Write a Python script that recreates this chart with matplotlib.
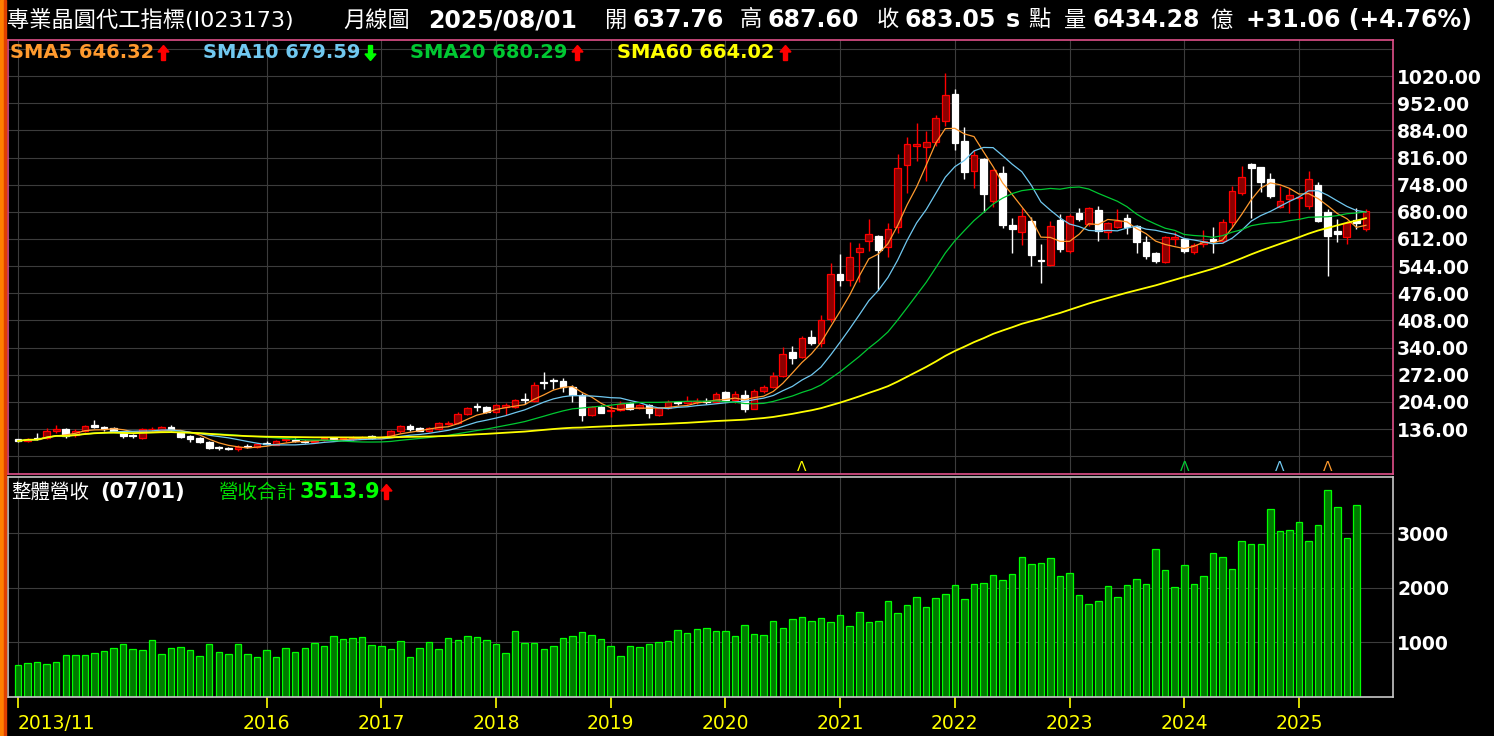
import numpy as np
import pandas as pd
import matplotlib
matplotlib.use("Agg")
import matplotlib.pyplot as plt
from matplotlib.patches import Rectangle, Polygon

plt.rcParams['font.family'] = ['DejaVu Sans', 'Noto Sans CJK TC']

# ---------------- data ----------------
months = pd.date_range('2013-11-01', periods=142, freq='MS')

opens = [110, 107, 114, 113, 130, 136, 120, 131, 146, 141,
         138, 129, 120, 114, 135, 133, 141, 125, 119, 113,
         104, 90, 89, 85, 93, 90, 101, 97, 108, 108,
         106, 103, 108, 114, 110, 112, 112, 118, 114, 117,
         130, 143, 138, 131, 137, 149, 151, 173, 193, 190,
         178, 192, 192, 210, 207, 254, 258, 256, 242, 222,
         171, 192, 181, 184, 200, 188, 196, 172, 189, 204,
         202, 204, 207, 204, 228, 209, 221, 187, 231, 241,
         268, 330, 317, 367, 351, 411, 524, 509, 580, 606,
         619, 591, 643, 796, 846, 842, 854, 907, 975, 857,
         783, 812, 708, 776, 647, 630, 657, 560, 546, 659,
         581, 676, 649, 684, 630, 643, 664, 645, 605, 578,
         555, 612, 613, 579, 599, 613, 608, 655, 728, 800,
         791, 761, 693, 712, 714, 695, 747, 679, 632, 618,
         659, 637.76]
highs = [111, 114, 126, 139, 146, 139, 135, 147, 158, 144,
         140, 131, 124, 139, 141, 144, 146, 128, 121, 115,
         106, 93, 92, 95, 98, 100, 106, 109, 113, 114,
         108, 109, 115, 116, 117, 118, 118, 121, 118, 133,
         146, 149, 140, 141, 153, 155, 179, 192, 200, 193,
         198, 202, 212, 227, 254, 280, 263, 264, 247, 226,
         194, 196, 196, 205, 203, 199, 198, 190, 209, 206,
         219, 214, 213, 229, 231, 232, 234, 237, 246, 279,
         341, 344, 370, 384, 421, 553, 574, 605, 601, 662,
         622, 651, 825, 867, 903, 882, 922, 1028, 987, 892,
         836, 815, 788, 795, 664, 690, 666, 599, 657, 674,
         674, 690, 692, 695, 655, 687, 674, 648, 619, 580,
         620, 630, 615, 603, 634, 641, 662, 744, 795, 801,
         793, 776, 744, 740, 723, 783, 755, 686, 661, 656,
         689, 687.60]
lows = [104, 104, 109, 110, 126, 114, 116, 128, 138, 132,
        128, 114, 114, 112, 130, 130, 131, 114, 103, 101,
        86, 83, 83, 82, 88, 88, 95, 95, 104, 103,
        101, 101, 106, 106, 105, 107, 110, 112, 112, 115,
        127, 131, 130, 128, 134, 146, 148, 170, 180, 175,
        175, 171, 188, 199, 204, 236, 236, 229, 204, 157,
        168, 175, 165, 182, 184, 185, 163, 169, 187, 195,
        199, 198, 198, 202, 204, 200, 178, 185, 227, 238,
        265, 300, 314, 346, 342, 405, 495, 495, 505, 582,
        484, 568, 626, 726, 808, 758, 845, 895, 836, 762,
        740, 679, 691, 640, 578, 597, 545, 501, 545, 580,
        578, 657, 644, 607, 611, 640, 624, 578, 562, 551,
        553, 597, 576, 574, 592, 576, 603, 643, 722, 664,
        730, 714, 689, 676, 659, 687, 655, 519, 605, 599,
        636, 633]
closes = [106, 112, 110, 131, 135, 118, 132, 143, 141, 137,
          131, 119, 118, 136, 137, 141, 133, 116, 111, 104,
          88, 88, 85, 92, 90, 98, 99, 107, 110, 105,
          104, 107, 113, 109, 113, 114, 116, 114, 116, 130,
          143, 136, 132, 138, 150, 152, 174, 188, 190, 178,
          196, 195, 208, 208, 246, 250, 255, 241, 221, 171,
          192, 177, 184, 199, 186, 196, 175, 188, 204, 202,
          205, 207, 204, 224, 209, 223, 186, 231, 242, 268,
          325, 315, 363, 351, 409, 523, 509, 566, 589, 624,
          584, 638, 790, 850, 850, 855, 915, 972, 853, 780,
          822, 725, 785, 648, 636, 669, 573, 557, 644, 587,
          669, 662, 689, 633, 651, 658, 643, 605, 569, 558,
          616, 616, 581, 597, 607, 608, 655, 731, 766, 790,
          755, 720, 708, 721, 718, 761, 657, 619, 624, 653,
          652, 683.05]
revenue = [577, 614, 632, 596, 632, 761, 761, 761, 798, 834,
           889, 963, 871, 853, 1036, 779, 889, 908, 853, 743,
           963, 816, 779, 963, 779, 724, 853, 724, 889, 816,
           889, 981, 926, 1110, 1055, 1073, 1091, 944, 926, 871,
           1018, 724, 889, 1000, 871, 1073, 1036, 1110, 1091, 1036,
           963, 798, 1201, 981, 981, 871, 926, 1073, 1110, 1183,
           1128, 1055, 926, 743, 926, 908, 963, 1000, 1018, 1220,
           1165, 1238, 1256, 1201, 1201, 1110, 1312, 1146, 1128, 1385,
           1256, 1421, 1458, 1385, 1440, 1366, 1495, 1293, 1550, 1366,
           1385, 1752, 1532, 1679, 1825, 1642, 1807, 1880, 2045, 1788,
           2063, 2081, 2228, 2136, 2246, 2558, 2430, 2448, 2540, 2210,
           2265, 1862, 1697, 1752, 2027, 1825, 2045, 2155, 2063, 2705,
           2320, 2008, 2412, 2063, 2210, 2632, 2558, 2338, 2852, 2797,
           2797, 3439, 3036, 3054, 3201, 2852, 3146, 3788, 3476, 2907,
           3513.9]
sma_periods = [5, 10, 20, 60]
sma_colors = ['#ff9a2e', '#70c8f0', '#00c832', '#ffff00']
sma_labels = ['SMA5 646.32', 'SMA10 679.59', 'SMA20 680.29', 'SMA60 664.02']
sma_up = [True, False, True, True]
signal_idx = [82, 122, 132, 137]
signal_colors = ['#ffff00', '#00cc33', '#70c8f0', '#ff9a2e']
price_ticks = list(range(68, 1089, 68))
rev_ticks = [1000, 2000, 3000]
first_labeled_year = 2016

# ---------------- figure ----------------
W, H = 1494, 736
fig = plt.figure(figsize=(W / 100, H / 100), dpi=100, facecolor='black')


def fx(px):
    return px / W


def fy(py):
    return 1 - py / H


def block_arrow(xl, yc, up, color):
    # small filled arrow, drawn in figure pixel units
    hw, sw, hh, tot = 5.5, 2.0, 6.5, 15.0
    cx = xl + hw
    top, bot = yc - tot / 2, yc + tot / 2
    if up:
        pts = [(cx, top), (cx + hw, top + hh), (cx + sw, top + hh), (cx + sw, bot),
               (cx - sw, bot), (cx - sw, top + hh), (cx - hw, top + hh)]
    else:
        pts = [(cx, bot), (cx + hw, bot - hh), (cx + sw, bot - hh), (cx + sw, top),
               (cx - sw, top), (cx - sw, bot - hh), (cx - hw, bot - hh)]
    fig.patches.append(Polygon([(fx(a), fy(b)) for a, b in pts], closed=True,
                               transform=fig.transFigure, color=color, zorder=5))


ax1 = fig.add_axes([fx(8), fy(474), fx(1385), 434 / H], facecolor='black')
ax2 = fig.add_axes([fx(8), fy(697), fx(1385), 220 / H], facecolor='black')

x = np.arange(len(closes))
o = np.array(opens, float)
h = np.array(highs, float)
l = np.array(lows, float)
c = np.array(closes, float)
up = c >= o

# x ticks: first month and every January from 2016
tick_pos = [0] + [i for i, m in enumerate(months) if m.month == 1 and m.year >= first_labeled_year]
tick_lab = [months[0].strftime('%Y/%m')] + [str(months[i].year) for i in tick_pos[1:]]

grid_col = '#3c3c3c'
for ax in (ax1, ax2):
    ax.set_xlim(-1.046, 143.83)
    ax.set_xticks(tick_pos)
    ax.grid(True, color=grid_col, lw=0.8, zorder=0)
    ax.set_axisbelow(True)
    ax.yaxis.tick_right()

# ----- top panel -----
ax1.set_ylim(23.3, 1110.3)
ax1.set_yticks(price_ticks)
ax1.set_yticklabels(['' if (v < 136 or v > 1020) else f'{v:.2f}' for v in price_ticks],
                    fontweight='bold')
ax1.tick_params(axis='y', length=0, pad=3, labelcolor='white', labelsize=13.5)
ax1.tick_params(axis='x', length=0, labelbottom=False)
for s in ax1.spines.values():
    s.set_color('#e0508a')
    s.set_linewidth(1.2)

# wicks
ax1.vlines(x[up], l[up], h[up], color='#ff0000', lw=1.0, zorder=2)
ax1.vlines(x[~up], l[~up], h[~up], color='white', lw=1.0, zorder=2)
body_b = np.minimum(o, c)
body_h = np.maximum(np.abs(c - o), 1.0)
ax1.bar(x[up], body_h[up], bottom=body_b[up], width=0.7, color='#8c0000',
        edgecolor='#ff0000', lw=0.9, zorder=2)
ax1.bar(x[~up], body_h[~up], bottom=body_b[~up], width=0.7, color='white',
        edgecolor='white', lw=0.9, zorder=2)

close_s = pd.Series(c)
for n, col in zip(sma_periods, sma_colors):
    sma = close_s.rolling(n, min_periods=1).mean()
    ax1.plot(x, sma, color=col, lw=1.3 if n == 60 else 0.9, zorder=3)

for i, col in zip(signal_idx, signal_colors):
    ax1.text(i, 0.0, 'Λ', color=col, fontsize=10, ha='center', va='bottom',
             transform=ax1.get_xaxis_transform(), zorder=4)

# ----- bottom panel -----
ax2.set_ylim(-4, 4033)
ax2.set_yticks(rev_ticks)
ax2.set_yticklabels([str(v) for v in rev_ticks], fontweight='bold')
ax2.tick_params(axis='y', length=0, pad=3, labelcolor='white', labelsize=13.5)
ax2.set_xticklabels(tick_lab)
ax2.tick_params(axis='x', length=8, width=1.2, color='#ffff00', pad=4,
                labelcolor='#ffff00', labelsize=13.5)
xl = ax2.get_xticklabels()
xl[0].set_horizontalalignment('left')
for s in ax2.spines.values():
    s.set_color('#c8c8c8')
    s.set_linewidth(1.2)
ax2.bar(x[:len(revenue)], revenue, width=0.68, color='#007a00', edgecolor='#00ff00',
        lw=0.9, zorder=2)

# ----- texts -----
cjk = ['Noto Sans CJK TC', 'DejaVu Sans']
ty = fy(20)
fig.text(fx(7), ty, '專業晶圓代工指標(I023173)', color='white', fontsize=16, va='center')
fig.text(fx(343), ty, '月線圖', color='white', fontsize=16, va='center', family=cjk)
fig.text(fx(428), ty, '2025/08/01', color='white', fontsize=17, fontweight='bold', va='center')
header_parts = [(604, '開', 632, '637.76'), (740, '高', 768, '687.60'),
                (877, '收', 905, '683.05'), (1064, '量', 1092, '6434.28')]
for cx, ch, nx, num in header_parts:
    fig.text(fx(cx), ty, ch, color='white', fontsize=16, va='center', family=cjk)
    fig.text(fx(nx), ty, num, color='white', fontsize=17, fontweight='bold', va='center')
fig.text(fx(1006), ty, 's', color='white', fontsize=17, fontweight='bold', va='center')
fig.text(fx(1028), ty, '點', color='white', fontsize=16, va='center', family=cjk)
fig.text(fx(1210), ty, '億', color='white', fontsize=16, va='center', family=cjk)
fig.text(fx(1246), ty, '+31.06 (+4.76%)', color='white', fontsize=17, fontweight='bold',
         va='center')

ly = 53
lab_x = [10, 203, 410, 617]
arr_x = [158, 365, 572, 780]
for lx, axx, lab, is_up, col in zip(lab_x, arr_x, sma_labels, sma_up, sma_colors):
    fig.text(fx(lx), fy(ly), lab, color=col, fontsize=14, fontweight='bold', va='center')
    block_arrow(axx, ly, is_up, '#ff0000' if is_up else '#00ff00')

ry = 492
fig.text(fx(11), fy(ry), '整體營收', color='white', fontsize=14, va='center', family=cjk)
fig.text(fx(100), fy(ry), '(07/01)', color='white', fontsize=15, fontweight='bold', va='center')
fig.text(fx(218), fy(ry), '營收合計', color='#00dd00', fontsize=14, va='center', family=cjk)
fig.text(fx(300), fy(ry), '3513.9', color='#00ff00', fontsize=15, fontweight='bold', va='center')
block_arrow(381, ry, True, '#ff0000')

# left edge strips
fig.patches.append(Rectangle((0, 0), fx(3.5), 1, transform=fig.transFigure,
                             color='#ff7f00', zorder=0))
fig.patches.append(Rectangle((fx(4.2), 0), fx(1.6), 1, transform=fig.transFigure,
                             color='#e04000', zorder=0))

fig.savefig('out.png', dpi=100, facecolor='black')
